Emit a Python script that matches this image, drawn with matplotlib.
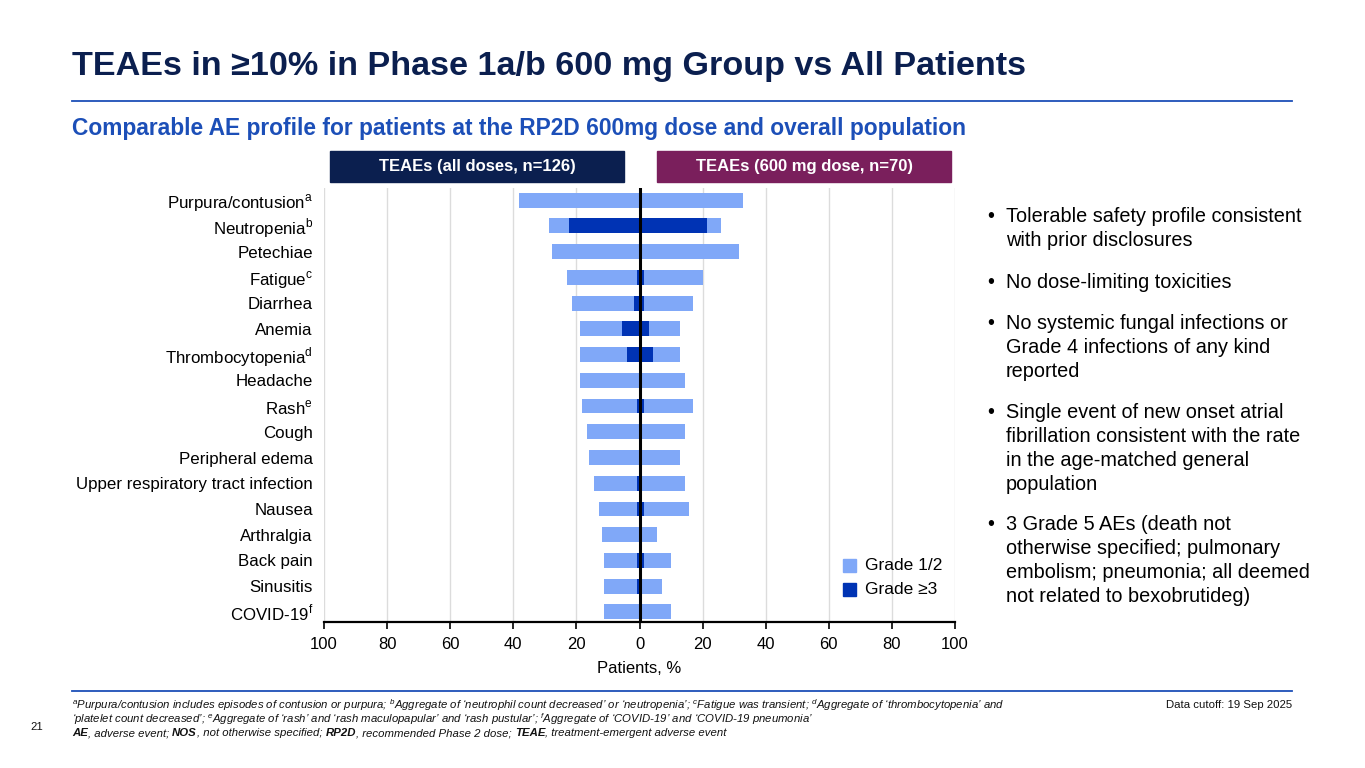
import matplotlib
matplotlib.use("Agg")
import matplotlib.pyplot as plt
import numpy as np

plt.rcParams['font.family'] = ['Liberation Sans', 'DejaVu Sans']
plt.rcParams['mathtext.fontset'] = 'custom'
plt.rcParams['mathtext.rm'] = 'Liberation Sans'

# data (% of patients)
events = ["Purpura/contusion$^{\\mathregular{a}}$", "Neutropenia$^{\\mathregular{b}}$", "Petechiae",
          "Fatigue$^{\\mathregular{c}}$", "Diarrhea", "Anemia", "Thrombocytopenia$^{\\mathregular{d}}$",
          "Headache", "Rash$^{\\mathregular{e}}$", "Cough", "Peripheral edema",
          "Upper respiratory tract infection", "Nausea", "Arthralgia", "Back pain", "Sinusitis",
          "COVID-19$^{\\mathregular{f}}$"]
all_any = [38.1, 28.6, 27.8, 23.0, 21.4, 19.0, 19.0, 19.0, 18.3, 16.7, 15.9, 14.3, 12.7, 11.9, 11.1, 11.1, 11.1]
all_g3 = [0, 22.2, 0, 0.8, 1.6, 5.6, 4.0, 0, 0.8, 0, 0, 0.8, 0.8, 0, 0.8, 0.8, 0]
d600_any = [32.9, 25.7, 31.4, 20.0, 17.1, 12.9, 12.9, 14.3, 17.1, 14.3, 12.9, 14.3, 15.7, 5.7, 10.0, 7.1, 10.0]
d600_g3 = [0, 21.4, 0, 1.4, 1.4, 2.9, 4.3, 0, 1.4, 0, 0, 0, 1.4, 0, 1.4, 0, 0]

bullets = [
    ["Tolerable safety profile consistent", "with prior disclosures"],
    ["No dose-limiting toxicities"],
    ["No systemic fungal infections or", "Grade 4 infections of any kind", "reported"],
    ["Single event of new onset atrial", "fibrillation consistent with the rate",
     "in the age-matched general", "population"],
    ["3 Grade 5 AEs (death not", "otherwise specified; pulmonary",
     "embolism; pneumonia; all deemed", "not related to bexobrutideg)"],
]

LIGHT = "#80a8f8"
DARK = "#0033b4"
NAVY = "#0b1f4f"
PURPLE = "#7a1f5c"
BLUE = "#1c4fb8"
FOOT = "#111111"

W, H = 1365, 768
fig = plt.figure(figsize=(W / 100, H / 100), dpi=100)


def fx(x):
    return x / W


def fy(y):
    return 1 - y / H


ax = fig.add_axes([fx(324), fy(622), fx(955) - fx(324), fy(188) - fy(622)])
y = np.arange(len(events))
bh = 0.58
ax.barh(y, -np.array(all_any), height=bh, color=LIGHT, zorder=2)
ax.barh(y, d600_any, height=bh, color=LIGHT, zorder=2)
ax.barh(y, -np.array(all_g3), height=bh, color=DARK, zorder=3)
ax.barh(y, d600_g3, height=bh, color=DARK, zorder=3)
ax.axvline(0, color="black", lw=2.2, zorder=4)

ax.set_xlim(-100, 100)
ax.set_ylim(len(events) - 1 + 0.39, -0.47)
ticks = np.arange(-100, 101, 20)
ax.set_xticks(ticks)
ax.set_xticklabels([str(abs(t)) for t in ticks], fontsize=12)
ax.set_yticks(y)
ax.set_yticklabels(events, fontsize=12.2)
ax.tick_params(axis="y", length=0, pad=8)
ax.tick_params(axis="x", length=5, width=1.2, pad=6)
for s in ["top", "right", "left"]:
    ax.spines[s].set_visible(False)
ax.spines["bottom"].set_linewidth(1.6)
for t in ticks:
    if t != 0:
        ax.axvline(t, color="#dcdcdc", lw=1, zorder=1)
ax.set_xlabel("Patients, %", fontsize=12, labelpad=6)

# legend
fig.patches.append(plt.Rectangle((fx(843), fy(572)), 13 / W, 13 / H, color=LIGHT, transform=fig.transFigure))
fig.patches.append(plt.Rectangle((fx(843), fy(596)), 13 / W, 13 / H, color=DARK, transform=fig.transFigure))
fig.text(fx(865), fy(566), "Grade 1/2", fontsize=12.5, va="center")
fig.text(fx(865), fy(590), "Grade ≥3", fontsize=12.5, va="center")

# header boxes
fig.patches.append(plt.Rectangle((fx(330), fy(182)), 294 / W, 31 / H, color=NAVY, transform=fig.transFigure))
fig.patches.append(plt.Rectangle((fx(657), fy(182)), 294 / W, 31 / H, color=PURPLE, transform=fig.transFigure))
fig.text(fx(477), fy(166.5), "TEAEs (all doses, n=126)", color="white", fontsize=12,
         fontweight="bold", ha="center", va="center")
fig.text(fx(804), fy(166.5), "TEAEs (600 mg dose, n=70)", color="white", fontsize=12,
         fontweight="bold", ha="center", va="center")

# title and subtitle
fig.text(fx(72), fy(66), "TEAEs in ≥10% in Phase 1a/b 600 mg Group vs All Patients",
         fontsize=24.6, fontweight="bold", color=NAVY, va="center")
fig.add_artist(plt.Line2D([fx(72), fx(1292)], [fy(101), fy(101)], color=BLUE, lw=1.3))
fig.text(fx(72), fy(128), "Comparable AE profile for patients at the RP2D 600mg dose and overall population",
         fontsize=16.4, fontweight="bold", color=BLUE, va="center")

# bullets
ypos = 217
for lines in bullets:
    fig.text(fx(987), fy(ypos), "•", fontsize=14.3, va="center")
    for ln in lines:
        fig.text(fx(1006), fy(ypos), ln, fontsize=14.3, va="center")
        ypos += 24
    ypos += 17

# footer
fs = 8.2
fig.add_artist(plt.Line2D([fx(72), fx(1292)], [fy(691), fy(691)], color=BLUE, lw=1.3))
fn1 = ("$^{\\mathregular{a}}$Purpura/contusion includes episodes of contusion or purpura; "
       "$^{\\mathregular{b}}$Aggregate of ‘neutrophil count decreased’ or ‘neutropenia’; "
       "$^{\\mathregular{c}}$Fatigue was transient; $^{\\mathregular{d}}$Aggregate of ‘thrombocytopenia’ and")
fn2 = ("‘platelet count decreased’; $^{\\mathregular{e}}$Aggregate of ‘rash’ and ‘rash maculopapular’ "
       "and ‘rash pustular’; $^{\\mathregular{f}}$Aggregate of ‘COVID-19’ and ‘COVID-19 pneumonia’")
fig.text(fx(72), fy(705), fn1, fontsize=fs, style="italic", va="center", color=FOOT)
fig.text(fx(72), fy(719), fn2, fontsize=fs, style="italic", va="center", color=FOOT)
fig.text(fx(1292), fy(705), "Data cutoff: 19 Sep 2025", fontsize=fs, ha="right", va="center", color=FOOT)
fig.text(fx(30), fy(727), "21", fontsize=fs, va="center", color=FOOT)

parts = [("AE", True), (", adverse event; ", False), ("NOS", True), (", not otherwise specified; ", False),
         ("RP2D", True), (", recommended Phase 2 dose; ", False), ("TEAE", True),
         (", treatment-emergent adverse event", False)]
fig.canvas.draw()
r = fig.canvas.get_renderer()
x0 = 72
for txt, bold in parts:
    t = fig.text(fx(x0), fy(733), txt, fontsize=fs, style="italic", va="center", color=FOOT,
                 fontweight="bold" if bold else "normal")
    x0 += t.get_window_extent(renderer=r).width

fig.savefig("out.png", dpi=100)
